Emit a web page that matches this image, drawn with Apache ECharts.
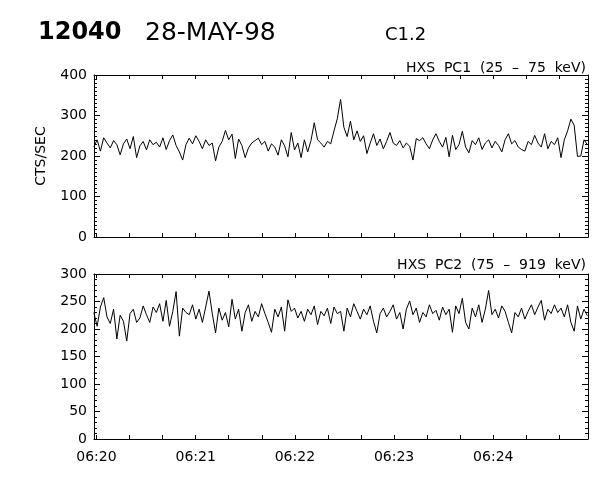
<!DOCTYPE html>
<html><head><meta charset="utf-8">
<script src="https://cdn.jsdelivr.net/npm/echarts@6/dist/echarts.min.js"></script>
<style>html,body{margin:0;padding:0;background:#fff}#c{width:600px;height:480px}</style>
</head><body><div id="c"></div>
<script>
// HXS PC1 (25-75 keV) count rates, one sample every ~2 s from 06:20
const pc1 = [
222,240,212,245,232,220,238,228,203,230,
242,218,248,196,225,236,215,240,228,234,
222,245,216,238,252,226,210,190,228,244,
230,250,236,218,240,226,232,188,222,236,
263,240,254,194,242,226,196,220,232,238,
244,228,236,212,230,222,202,240,225,198,
258,215,232,196,240,210,238,282,240,232,
222,236,230,262,292,340,271,248,286,240,
262,236,250,206,232,255,226,242,218,236,
258,232,226,238,220,232,224,190,243,238,
245,230,218,240,255,236,222,246,198,251,
216,228,261,222,208,238,228,245,216,232,
240,220,236,226,210,240,255,230,238,222,
216,212,236,228,251,232,222,255,218,236,
228,245,196,240,262,291,276,199,200,240,228
];
// HXS PC2 (75-919 keV) count rates
const pc2 = [
230,205,240,257,222,210,236,182,225,214,
178,228,236,212,220,242,226,212,240,230,
246,214,252,205,232,268,187,238,230,226,
244,218,236,212,240,269,228,193,238,216,
230,204,254,218,236,196,230,244,214,232,
222,246,228,212,194,236,222,240,196,253,
232,238,220,232,214,236,226,242,208,232,
224,238,210,240,228,232,196,238,222,246,
232,218,236,226,242,214,193,228,238,222,
232,244,218,230,200,236,251,226,238,212,
230,222,244,228,234,216,240,226,236,194,
242,228,256,212,200,238,222,244,212,236,
270,226,236,220,242,232,212,193,230,222,
238,218,232,244,226,240,252,216,236,228,
244,230,238,222,244,212,196,242,218,236,224
];
const startSec = -1.6;   // first sample, seconds after 06:20:00
const stepSec = 1.99;    // sampling step, seconds
const tickSecs = [0,20,40,60,80,100,120,140,160,180,200,220,240,260,280];
const labelSecs = [0,60,120,180,240];
const timeLabels = ['06:20','06:21','06:22','06:23','06:24'];
const titleMain = '12040';
const titleDate = '28-MAY-98';
const titleClass = 'C1.2';
const panel1Title = 'HXS  PC1  (25  \u2013  75  keV)';
const panel2Title = 'HXS  PC2  (75  \u2013  919  keV)';
const yName = 'CTS/SEC';

const FONT = '"DejaVu Sans", sans-serif';
const xMin = -1.5, xMax = 297.3;
const toPairs = arr => arr.map((v, i) => [startSec + i * stepSec, v]);

function xAx(gridIndex, pos, showLabels) {
  return {
    type: 'value', gridIndex, position: pos, min: xMin, max: xMax,
    axisLine: { show: true, onZero: false, lineStyle: { color: '#000', width: 1 } },
    axisTick: { show: true, inside: true, length: 4, customValues: tickSecs, lineStyle: { color: '#000' } },
    axisLabel: showLabels ? {
      show: true, customValues: labelSecs, color: '#000', fontFamily: FONT, fontSize: 14, margin: 11,
      formatter: v => timeLabels[labelSecs.indexOf(Math.round(v))] || ''
    } : { show: false },
    splitLine: { show: false }, minorTick: { show: false }
  };
}
function yAx(gridIndex, pos, max, interval, showLabels, name) {
  return {
    type: 'value', gridIndex, position: pos, min: 0, max, interval,
    name: name || '', nameLocation: 'middle', nameGap: 46, nameRotate: 90,
    nameTextStyle: { color: '#000', fontFamily: FONT, fontSize: 14 },
    axisLine: { show: true, onZero: false, lineStyle: { color: '#000', width: 1 } },
    axisTick: { show: true, inside: true, length: 6, lineStyle: { color: '#000' } },
    minorTick: { show: true, splitNumber: max / interval === 4 ? 10 : 5, length: 3, lineStyle: { color: '#000' } },
    axisLabel: showLabels ? { show: true, color: '#000', fontFamily: FONT, fontSize: 14, margin: 7 } : { show: false },
    splitLine: { show: false }, minorSplitLine: { show: false }
  };
}

const chart = echarts.init(document.getElementById('c'), null, { renderer: 'canvas' });
chart.setOption({
  backgroundColor: '#fff',
  animation: false,
  grid: [
    { left: 94, top: 75, width: 494, height: 162 },
    { left: 94, top: 274, width: 494, height: 165 }
  ],
  xAxis: [xAx(0, 'bottom', false), xAx(0, 'top', false), xAx(1, 'bottom', true), xAx(1, 'top', false)],
  yAxis: [yAx(0, 'left', 400, 100, true, yName), yAx(0, 'right', 400, 100, false),
          yAx(1, 'left', 300, 50, true), yAx(1, 'right', 300, 50, false)],
  series: [
    { type: 'line', xAxisIndex: 0, yAxisIndex: 0, data: toPairs(pc1), showSymbol: false,
      lineStyle: { color: '#000', width: 1 }, silent: true },
    { type: 'line', xAxisIndex: 2, yAxisIndex: 2, data: toPairs(pc2), showSymbol: false,
      lineStyle: { color: '#000', width: 1 }, silent: true }
  ],
  graphic: [
    { type: 'text', x: 38, y: 33, style: { text: titleMain, font: 'bold 24px ' + FONT, fill: '#000', verticalAlign: 'middle' } },
    { type: 'text', x: 145, y: 33, style: { text: titleDate, font: '25px ' + FONT, fill: '#000', verticalAlign: 'middle' } },
    { type: 'text', x: 385, y: 35, style: { text: titleClass, font: '18px ' + FONT, fill: '#000', verticalAlign: 'middle' } },
    { type: 'text', x: 586, y: 68, style: { text: panel1Title, font: '14px ' + FONT, fill: '#000', align: 'right', verticalAlign: 'middle' } },
    { type: 'text', x: 586, y: 265, style: { text: panel2Title, font: '14px ' + FONT, fill: '#000', align: 'right', verticalAlign: 'middle' } }
  ]
});
</script></body></html>
